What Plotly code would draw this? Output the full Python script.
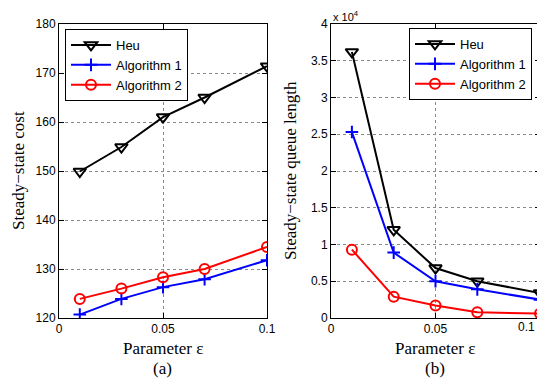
import plotly.graph_objects as go

# ---- data ----
eps = [0.01, 0.03, 0.05, 0.07, 0.1]
series_names = ["Heu", "Algorithm 1", "Algorithm 2"]
cost_heu = [149.9, 154.9, 161.0, 165.0, 171.4]
cost_alg1 = [120.7, 123.9, 126.3, 127.9, 131.8]
cost_alg2 = [123.9, 126.0, 128.3, 130.0, 134.5]
queue_heu = [36200, 12000, 6800, 5000, 3400]
queue_alg1 = [25300, 8900, 5000, 3900, 2500]
queue_alg2 = [9300, 2900, 1700, 770, 600]
x_ticks = [0, 0.05, 0.1]
x_ticktext = ["0", "0.05", "0.1"]
cost_ticks = [120, 130, 140, 150, 160, 170, 180]
queue_ticks = [0, 5000, 10000, 15000, 20000, 25000, 30000, 35000, 40000]
queue_ticktext = ["0", "0.5", "1", "1.5", "2", "2.5", "3", "3.5", "4"]

colors = ["black", "blue", "red"]
symbols = ["triangle-down-open", "cross-thin-open", "circle-open"]
msizes = [11, 9, 10]

fig = go.Figure()

def add_series(xs, ys, i, xa, ya, legend):
    fig.add_trace(go.Scatter(
        x=xs, y=ys, name=series_names[i], mode="lines+markers",
        xaxis=xa, yaxis=ya, legend=legend,
        line=dict(color=colors[i], width=2),
        marker=dict(symbol=symbols[i], size=msizes[i], color=colors[i],
                    line=dict(color=colors[i], width=2)),
    ))

for i, ys in enumerate([cost_heu, cost_alg1, cost_alg2]):
    add_series(eps, ys, i, "x", "y", "legend")
for i, ys in enumerate([queue_heu, queue_alg1, queue_alg2]):
    add_series(eps, ys, i, "x2", "y2", "legend2")

# page has an 8px body margin; lay out in page pixels and convert
OFF = 8
W, H = 545 - OFF, 384 - OFF
def fx(p): return (p - OFF) / W
def fy(p): return 1 - (p - OFF) / H

tickfont = dict(family="Liberation Sans, Arial", size=12, color="black")
titlefont = dict(family="Liberation Serif, Times New Roman", size=17, color="black")

axis_common = dict(
    showline=True, linecolor="black", linewidth=1, mirror="ticks",
    ticks="inside", ticklen=5, tickcolor="black", automargin=False,
    showgrid=True, gridcolor="#8a8a8a", griddash="dot", gridwidth=1,
    zeroline=False, tickfont=tickfont,
)

legend_font = dict(family="Liberation Sans, Arial", size=13, color="black")

fig.update_layout(
    width=W, height=H, margin=dict(l=0, r=0, t=0, b=0, autoexpand=False),
    paper_bgcolor="white", plot_bgcolor="white",
    xaxis=dict(domain=[fx(59), fx(267)], range=[0, 0.1], anchor="y",
               tickvals=x_ticks, ticktext=x_ticktext, **axis_common),
    yaxis=dict(domain=[fy(318), fy(24)], range=[120, 180], anchor="x",
               tickvals=cost_ticks, **axis_common),
    xaxis2=dict(domain=[fx(331), fx(540)], range=[0, 0.1], anchor="y2",
                tickvals=x_ticks, ticktext=x_ticktext, **axis_common),
    yaxis2=dict(domain=[fy(318), fy(24)], range=[0, 40000], anchor="x2",
                tickvals=queue_ticks, ticktext=queue_ticktext, **axis_common),
    legend=dict(x=fx(65), y=fy(29), xanchor="left", yanchor="top",
                bordercolor="black", borderwidth=1, bgcolor="white",
                font=legend_font, itemwidth=40, tracegroupgap=0),
    legend2=dict(x=fx(409), y=fy(28), xanchor="left", yanchor="top",
                 bordercolor="black", borderwidth=1, bgcolor="white",
                 font=legend_font, itemwidth=40, tracegroupgap=0),
)

annotations = [
    dict(text="Parameter ε", x=fx(163), y=fy(348), xref="paper", yref="paper",
         showarrow=False, font=titlefont, xanchor="center", yanchor="middle"),
    dict(text="Parameter ε", x=fx(435), y=fy(348), xref="paper", yref="paper",
         showarrow=False, font=titlefont, xanchor="center", yanchor="middle"),
    dict(text="(a)", x=fx(163), y=fy(368), xref="paper", yref="paper",
         showarrow=False, font=titlefont, xanchor="center", yanchor="middle"),
    dict(text="(b)", x=fx(435), y=fy(368), xref="paper", yref="paper",
         showarrow=False, font=titlefont, xanchor="center", yanchor="middle"),
    dict(text="Steady−state cost", x=fx(18), y=fy(171), xref="paper", yref="paper",
         showarrow=False, font=titlefont, textangle=-90, xanchor="center", yanchor="middle"),
    dict(text="Steady−state queue length", x=fx(290), y=fy(171), xref="paper", yref="paper",
         showarrow=False, font=titlefont, textangle=-90, xanchor="center", yanchor="middle"),
    dict(text="x 10<sup>4</sup>", x=fx(331), y=fy(16), xref="paper", yref="paper",
         showarrow=False, font=dict(family="Liberation Sans, Arial", size=11, color="black"),
         xanchor="left", yanchor="middle"),
    # last x tick label of panel (b), which sits at the page edge
    dict(text=x_ticktext[-1], x=fx(536), xref="paper", y=fy(327), yref="paper",
         showarrow=False, font=tickfont, xanchor="right", yanchor="middle",
         borderpad=0),
]
fig.update_layout(annotations=annotations)

fig.write_html("out.html")
